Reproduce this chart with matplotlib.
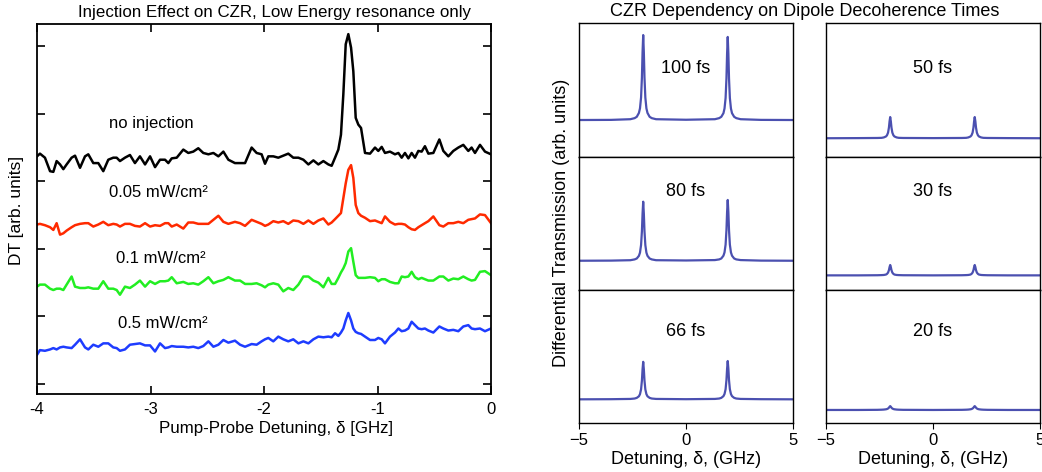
import matplotlib
matplotlib.use("Agg")
import matplotlib.pyplot as plt
from matplotlib.ticker import FixedLocator, FixedFormatter, NullFormatter

plt.rcParams['font.family'] = ['Liberation Sans', 'DejaVu Sans']

# ---------------- Left panel data (pump-probe detuning, GHz) ----------------
detuning = [
    -4.0, -3.974, -3.930, -3.885, -3.856, -3.827, -3.797, -3.768, -3.739,
    -3.695, -3.665, -3.621, -3.577, -3.548, -3.504, -3.460, -3.416, -3.372, -3.328,
    -3.298, -3.269, -3.225, -3.181, -3.137, -3.093, -3.048, -3.004, -2.960, -2.916,
    -2.872, -2.843, -2.813, -2.769, -2.711, -2.667, -2.623, -2.579, -2.535, -2.490,
    -2.446, -2.402, -2.358, -2.314, -2.256, -2.211, -2.167, -2.109, -2.065, -2.021,
    -1.991, -1.962, -1.918, -1.874, -1.830, -1.786, -1.742, -1.697, -1.653, -1.609,
    -1.565, -1.521, -1.477, -1.433, -1.404, -1.374, -1.345, -1.322, -1.301, -1.280,
    -1.257, -1.233, -1.213, -1.192, -1.169, -1.145, -1.110, -1.066, -1.022, -0.993,
    -0.963, -0.934, -0.890, -0.846, -0.816, -0.787, -0.758, -0.728, -0.699, -0.670,
    -0.640, -0.611, -0.582, -0.552, -0.508, -0.455, -0.420, -0.376, -0.332, -0.288,
    -0.244, -0.200, -0.171, -0.141, -0.097, -0.053, 0.0]

dt_no_injection = [
    3.37, 3.41, 3.35, 3.15, 3.14, 3.30, 3.25, 3.18, 3.25,
    3.35, 3.38, 3.20, 3.37, 3.40, 3.27, 3.27, 3.15, 3.32, 3.35,
    3.35, 3.30, 3.35, 3.39, 3.27, 3.37, 3.25, 3.37, 3.21, 3.32,
    3.32, 3.27, 3.34, 3.35, 3.47, 3.42, 3.44, 3.49, 3.42, 3.40,
    3.42, 3.37, 3.44, 3.32, 3.27, 3.27, 3.27, 3.50, 3.42, 3.40,
    3.26, 3.37, 3.37, 3.35, 3.38, 3.41, 3.35, 3.35, 3.32, 3.25,
    3.31, 3.25, 3.30, 3.25, 3.23, 3.35, 3.47, 3.69, 4.29, 5.03,
    5.18, 4.98, 4.63, 3.94, 3.84, 3.79, 3.42, 3.41, 3.50, 3.45,
    3.51, 3.42, 3.44, 3.40, 3.42, 3.35, 3.42, 3.34, 3.42, 3.35,
    3.45, 3.44, 3.52, 3.41, 3.42, 3.62, 3.45, 3.37, 3.45, 3.50,
    3.54, 3.45, 3.50, 3.42, 3.54, 3.44, 3.40]

dt_005 = [
    2.36, 2.37, 2.35, 2.32, 2.28, 2.38, 2.21, 2.23, 2.27,
    2.32, 2.35, 2.37, 2.38, 2.38, 2.33, 2.36, 2.40, 2.35, 2.37,
    2.36, 2.33, 2.37, 2.37, 2.34, 2.33, 2.38, 2.33, 2.35, 2.34,
    2.38, 2.38, 2.33, 2.36, 2.30, 2.39, 2.39, 2.37, 2.37, 2.37,
    2.43, 2.49, 2.40, 2.37, 2.40, 2.38, 2.34, 2.43, 2.40, 2.37,
    2.34, 2.36, 2.41, 2.39, 2.41, 2.37, 2.42, 2.41, 2.37, 2.42,
    2.37, 2.42, 2.45, 2.36, 2.39, 2.44, 2.49, 2.53, 2.75, 2.97,
    3.17, 3.24, 3.05, 2.65, 2.53, 2.49, 2.46, 2.41, 2.42, 2.40,
    2.38, 2.48, 2.40, 2.36, 2.37, 2.37, 2.36, 2.32, 2.29, 2.28,
    2.32, 2.35, 2.38, 2.41, 2.48, 2.35, 2.33, 2.38, 2.38, 2.40,
    2.38, 2.43, 2.44, 2.45, 2.51, 2.50, 2.38]

dt_01 = [
    1.44, 1.47, 1.47, 1.41, 1.39, 1.41, 1.41, 1.39, 1.47,
    1.59, 1.44, 1.42, 1.42, 1.43, 1.41, 1.41, 1.52, 1.41, 1.41,
    1.39, 1.32, 1.44, 1.42, 1.47, 1.53, 1.44, 1.52, 1.48, 1.52,
    1.52, 1.53, 1.58, 1.49, 1.51, 1.48, 1.49, 1.47, 1.52, 1.58,
    1.49, 1.52, 1.54, 1.58, 1.53, 1.53, 1.48, 1.48, 1.49, 1.46,
    1.43, 1.47, 1.49, 1.47, 1.37, 1.42, 1.39, 1.47, 1.59, 1.59,
    1.53, 1.50, 1.43, 1.57, 1.48, 1.48, 1.57, 1.65, 1.71, 1.79,
    1.96, 2.01, 1.81, 1.61, 1.57, 1.57, 1.57, 1.58, 1.57, 1.52,
    1.55, 1.55, 1.51, 1.49, 1.49, 1.59, 1.58, 1.59, 1.66, 1.58,
    1.55, 1.57, 1.55, 1.53, 1.53, 1.59, 1.59, 1.53, 1.56, 1.55,
    1.59, 1.55, 1.53, 1.54, 1.66, 1.67, 1.61]

dt_05 = [
    0.43, 0.50, 0.49, 0.51, 0.53, 0.51, 0.54, 0.55, 0.54,
    0.53, 0.58, 0.66, 0.54, 0.51, 0.58, 0.55, 0.60, 0.60, 0.54,
    0.53, 0.49, 0.51, 0.58, 0.59, 0.60, 0.57, 0.57, 0.48, 0.60,
    0.53, 0.54, 0.56, 0.55, 0.55, 0.54, 0.55, 0.53, 0.56, 0.63,
    0.55, 0.58, 0.65, 0.61, 0.64, 0.58, 0.55, 0.59, 0.58, 0.63,
    0.66, 0.68, 0.63, 0.70, 0.66, 0.63, 0.66, 0.60, 0.63, 0.60,
    0.66, 0.70, 0.69, 0.70, 0.69, 0.75, 0.71, 0.76, 0.82, 0.94,
    1.05, 0.94, 0.82, 0.77, 0.75, 0.74, 0.70, 0.65, 0.65, 0.68,
    0.66, 0.60, 0.70, 0.76, 0.82, 0.78, 0.79, 0.82, 0.92, 0.87,
    0.82, 0.81, 0.82, 0.79, 0.76, 0.85, 0.82, 0.79, 0.80, 0.78,
    0.85, 0.87, 0.82, 0.81, 0.82, 0.78, 0.82]

left_labels = ["no injection", "0.05 mW/cm²", "0.1 mW/cm²", "0.5 mW/cm²"]
left_colors = ["#000000", "#ff2a00", "#22ee22", "#1e3cff"]
left_label_pos = [(-3.37, 3.85), (-3.37, 2.83), (-3.30, 1.85), (-3.29, 0.90)]
left_xticks = [-4, -3, -2, -1, 0]
left_xticklabels = ["-4", "-3", "-2", "-1", "0"]

# ---------------- Right panels data (theory) ----------------
detuning_th = [
    -5.0, -3.5,
    -2.6, -2.4, -2.3, -2.2, -2.15, -2.1, -2.06, -2.03, -2.0,
    -1.97, -1.94, -1.9, -1.85, -1.8, -1.7, -1.6, -1.4,
    0.0,
    1.35, 1.55, 1.65, 1.75, 1.8, 1.85, 1.89, 1.92, 1.95,
    1.98, 2.01, 2.05, 2.1, 2.15, 2.25, 2.35, 2.55,
    3.5, 5.0]

dt_100fs = [0.276, 0.277,
            0.282, 0.290, 0.300, 0.329, 0.363, 0.444, 0.593, 0.783, 0.910,
            0.783, 0.593, 0.444, 0.363, 0.329, 0.300, 0.290, 0.282,
            0.278,
            0.282, 0.290, 0.300, 0.327, 0.362, 0.440, 0.586, 0.772, 0.896,
            0.772, 0.586, 0.440, 0.362, 0.327, 0.300, 0.290, 0.282,
            0.277, 0.276]
dt_80fs = [0.220, 0.221,
           0.224, 0.230, 0.237, 0.257, 0.281, 0.338, 0.442, 0.575, 0.664,
           0.575, 0.442, 0.338, 0.281, 0.257, 0.237, 0.230, 0.224,
           0.222,
           0.225, 0.230, 0.237, 0.258, 0.283, 0.341, 0.449, 0.586, 0.677,
           0.586, 0.449, 0.341, 0.283, 0.258, 0.237, 0.230, 0.225,
           0.221, 0.220]
dt_66fs = [0.178, 0.179,
           0.181, 0.184, 0.189, 0.201, 0.217, 0.253, 0.319, 0.404, 0.460,
           0.404, 0.319, 0.253, 0.217, 0.201, 0.189, 0.184, 0.181,
           0.179,
           0.181, 0.184, 0.189, 0.202, 0.218, 0.254, 0.322, 0.408, 0.466,
           0.408, 0.322, 0.254, 0.218, 0.202, 0.189, 0.184, 0.181,
           0.179, 0.178]
dt_50fs = [0.140, 0.141,
           0.142, 0.143, 0.146, 0.153, 0.162, 0.182, 0.219, 0.266, 0.298,
           0.266, 0.219, 0.182, 0.162, 0.153, 0.146, 0.143, 0.142,
           0.141,
           0.142, 0.143, 0.146, 0.153, 0.162, 0.182, 0.219, 0.266, 0.298,
           0.266, 0.219, 0.182, 0.162, 0.153, 0.146, 0.143, 0.142,
           0.141, 0.140]
dt_30fs = [0.110, 0.110,
           0.111, 0.112, 0.113, 0.116, 0.121, 0.131, 0.149, 0.172, 0.188,
           0.172, 0.149, 0.131, 0.121, 0.116, 0.113, 0.112, 0.111,
           0.110,
           0.111, 0.112, 0.113, 0.116, 0.121, 0.131, 0.149, 0.172, 0.188,
           0.172, 0.149, 0.131, 0.121, 0.116, 0.113, 0.112, 0.111,
           0.110, 0.110]
dt_20fs = [0.098, 0.098,
           0.099, 0.100, 0.101, 0.103, 0.105, 0.109, 0.115, 0.122, 0.127,
           0.122, 0.115, 0.109, 0.105, 0.103, 0.101, 0.100, 0.099,
           0.098,
           0.099, 0.100, 0.101, 0.103, 0.105, 0.109, 0.115, 0.122, 0.127,
           0.122, 0.115, 0.109, 0.105, 0.103, 0.101, 0.100, 0.099,
           0.098, 0.098]

panel_labels = ["100 fs", "50 fs", "80 fs", "30 fs", "66 fs", "20 fs"]
panel_series = [dt_100fs, dt_50fs, dt_80fs, dt_30fs, dt_66fs, dt_20fs]
panel_label_y = [0.664, 0.664, 0.737, 0.737, 0.69, 0.69]
right_xticks = [-5, 0, 5]
right_xticklabels = ["\u22125", "0", "5"]

W, H = 1042, 472
fig = plt.figure(figsize=(W / 100, H / 100), dpi=100)

def rect(x0, y0, x1, y1):
    return [x0 / W, 1 - y1 / H, (x1 - x0) / W, (y1 - y0) / H]

# ---------------- Left panel ----------------
axL = fig.add_axes(rect(37, 24, 491, 394))
for y, c in zip([dt_no_injection, dt_005, dt_01, dt_05], left_colors):
    axL.plot(detuning, y, color=c, lw=1.8, solid_joinstyle='round')
for (tx, ty), s in zip(left_label_pos, left_labels):
    axL.text(tx, ty, s, fontsize=12, va='center', ha='left')
axL.set_xlim(-4, 0)
axL.set_ylim(-0.15, 5.33)
axL.xaxis.set_major_locator(FixedLocator(left_xticks))
axL.xaxis.set_major_formatter(FixedFormatter(left_xticklabels))
axL.yaxis.set_major_locator(FixedLocator([0, 1, 2, 3, 4, 5]))
axL.yaxis.set_major_formatter(NullFormatter())
axL.tick_params(direction='in', length=6, width=1.2, top=True, right=True,
                labelsize=12, pad=6)
for sp in axL.spines.values():
    sp.set_linewidth(1.3)
fig.text(276 / W, 1 - 428 / H, "Pump-Probe Detuning, \u03b4 [GHz]",
         ha='center', va='center', fontsize=12.2)
fig.text(17 / W, 1 - 210 / H, "DT [arb. units]", ha='center', va='center',
         rotation=90, fontsize=12.5)
fig.text(275 / W, 1 - 12 / H, "Injection Effect on CZR, Low Energy resonance only",
         ha='center', va='center', fontsize=12.2)

# ---------------- Right panels ----------------
cols = [(579, 793), (826, 1040)]
rows = [(23, 157), (157, 290), (290, 423)]
k = 0
for r, (y0, y1) in enumerate(rows):
    for c, (x0, x1) in enumerate(cols):
        ax = fig.add_axes(rect(x0, y0, x1, y1))
        ax.plot(detuning_th, panel_series[k], color="#4b50b0", lw=1.6)
        ax.text(0.5, panel_label_y[k], panel_labels[k], transform=ax.transAxes,
                ha='center', va='center', fontsize=13)
        ax.set_xlim(-5, 5)
        ax.set_ylim(0, 1)
        ax.set_yticks([])
        ax.xaxis.set_major_locator(FixedLocator(right_xticks))
        if r == 2:
            ax.xaxis.set_major_formatter(FixedFormatter(right_xticklabels))
            ax.tick_params(axis='x', direction='out', length=4, labelsize=12, pad=3)
            ax.set_xlabel("Detuning, \u03b4, (GHz)", fontsize=13, labelpad=2)
        else:
            ax.tick_params(axis='x', length=0, labelbottom=False)
        for sp in ax.spines.values():
            sp.set_linewidth(1.0)
        k += 1

fig.text(805 / W, 1 - 12 / H, "CZR Dependency on Dipole Decoherence Times",
         ha='center', va='center', fontsize=13)
fig.text(562 / W, 1 - 223 / H, "Differential Transmission (arb. units)",
         ha='center', va='center', rotation=90, fontsize=13)

fig.savefig("out.png", dpi=100)
